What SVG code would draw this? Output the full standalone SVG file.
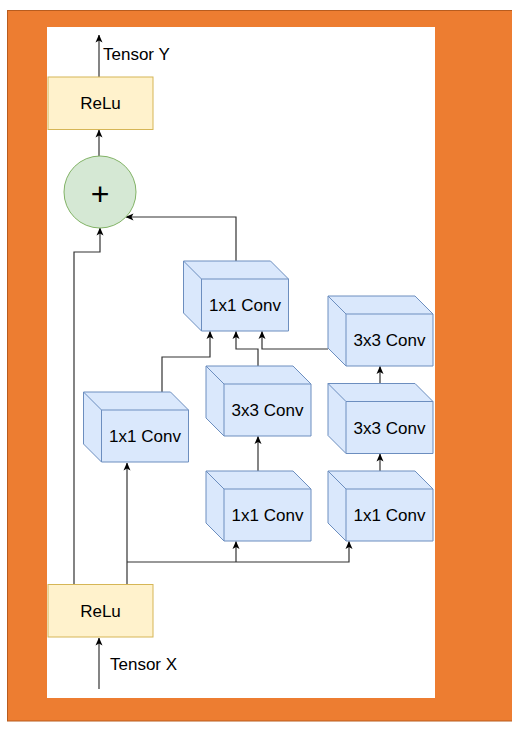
<svg xmlns="http://www.w3.org/2000/svg" width="512" height="746" viewBox="0 0 512 746">
<defs>
<style>
.t{font-family:"Liberation Sans",Arial,sans-serif;font-size:17px;fill:#000}
.c{text-anchor:middle}
.relu{fill:#fff2cc;stroke:#d6b656;stroke-width:1}
.cube{fill:#dae8fc;stroke:#6c8ebf;stroke-width:1;stroke-linejoin:round}
.cl{fill:none;stroke:#6c8ebf;stroke-width:1}
.e{fill:none;stroke:#333;stroke-width:1.2}
</style>
<marker id="a" viewBox="0 0 8 8" refX="7.5" refY="4" markerWidth="8" markerHeight="8" markerUnits="userSpaceOnUse" orient="auto">
<path d="M0,0.5 L8,4 L0,7.5 L2,4 z" fill="#000"/>
</marker>
<g id="cubeShape">
<path class="cube" d="M0,0 H87 L105,18 V70 H18 L0,52 Z"/>
<path class="cl" d="M0,0 L18,18 H105 M18,18 V70"/>
</g>
</defs>
<rect x="7.5" y="10.5" width="520" height="710.5" fill="#ed7d31" stroke="#b85c1e" stroke-width="1"/>
<rect x="47" y="27" width="388" height="671" fill="#fff"/>

<g id="connectors">
<path class="e" d="M99,77 V35" marker-end="url(#a)"/>
<path class="e" d="M99,156 V130" marker-end="url(#a)"/>
<path class="e" d="M236,261 V217 H126" marker-end="url(#a)"/>
<path class="e" d="M74,584 V252 H100 V228" marker-end="url(#a)"/>
<path class="e" d="M127,584 V463" marker-end="url(#a)"/>
<path class="e" d="M127,562 H349 V541.5" marker-end="url(#a)"/>
<path class="e" d="M236,562 V541.5" marker-end="url(#a)"/>
<path class="e" d="M258,471 V436.5" marker-end="url(#a)"/>
<path class="e" d="M380,471 V454" marker-end="url(#a)"/>
<path class="e" d="M380,383 V366.5" marker-end="url(#a)"/>
<path class="e" d="M162,392 V357 H210 V331.5" marker-end="url(#a)"/>
<path class="e" d="M258,366 V349 H236 V331.5" marker-end="url(#a)"/>
<path class="e" d="M328,349 H262 V331.5" marker-end="url(#a)"/>
<path class="e" d="M99,689 V638" marker-end="url(#a)"/>
</g>

<g id="tensorY"><text class="t" x="103" y="60">Tensor Y</text></g>
<g id="tensorX"><text class="t" x="110" y="670">Tensor X</text></g>

<g id="reluTop">
<rect class="relu" x="48" y="77" width="105" height="52.5"/>
<text class="t c" x="100.5" y="109">ReLu</text>
</g>
<g id="add">
<circle cx="100" cy="192" r="36" fill="#d5e8d4" stroke="#82b366" stroke-width="1"/>
<text x="100" y="204.5" text-anchor="middle" style="font-family:'Liberation Sans',Arial,sans-serif;font-size:32px;fill:#000">+</text>
</g>
<g id="reluBottom">
<rect class="relu" x="48" y="584.5" width="105" height="52.5"/>
<text class="t c" x="100.5" y="616.5">ReLu</text>
</g>

<g id="conv1x1Top" transform="translate(183.5,261)">
<use href="#cubeShape"/>
<text class="t c" x="61.5" y="50">1x1 Conv</text>
</g>
<g id="conv3x3RightTop" transform="translate(328,296)">
<use href="#cubeShape"/>
<text class="t c" x="61.5" y="50">3x3 Conv</text>
</g>
<g id="conv3x3Mid" transform="translate(206,366)">
<use href="#cubeShape"/>
<text class="t c" x="61.5" y="50">3x3 Conv</text>
</g>
<g id="conv3x3RightLow" transform="translate(328,383.5)">
<use href="#cubeShape"/>
<text class="t c" x="61.5" y="50">3x3 Conv</text>
</g>
<g id="conv1x1Left" transform="translate(83.5,392)">
<use href="#cubeShape"/>
<text class="t c" x="61.5" y="50">1x1 Conv</text>
</g>
<g id="conv1x1BottomMid" transform="translate(206,471)">
<use href="#cubeShape"/>
<text class="t c" x="61.5" y="50">1x1 Conv</text>
</g>
<g id="conv1x1BottomRight" transform="translate(328,471)">
<use href="#cubeShape"/>
<text class="t c" x="61.5" y="50">1x1 Conv</text>
</g>
</svg>
